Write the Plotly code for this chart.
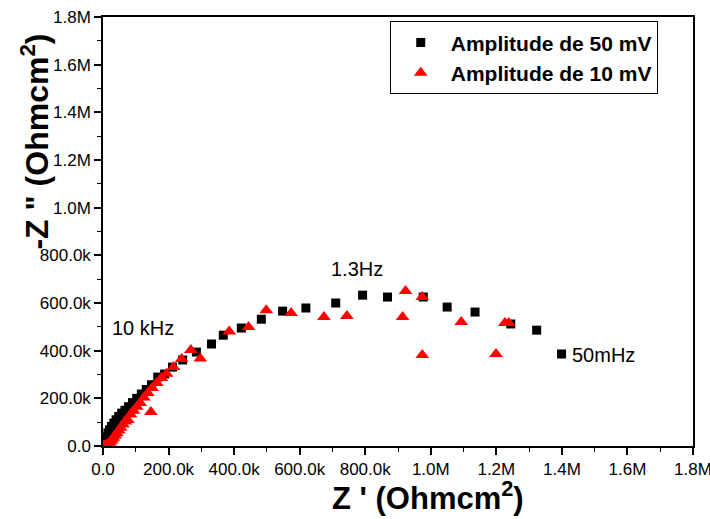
import plotly.graph_objects as go

# Amplitude 50 mV (black squares): Z' and -Z'' in k Ohm cm^2
x50 = [1, 3, 5, 8, 11, 15, 20, 26, 33, 40, 48, 57, 67, 78, 90, 103, 117, 132, 148, 167, 188,
       212, 243, 285, 331, 367, 422, 483, 548, 619, 710, 792, 868, 977, 1050, 1135, 1244, 1323, 1399]
y50 = [3, 10, 18, 28, 38, 55, 68, 82, 96, 110, 124, 138, 150, 165, 182, 200, 218, 237, 257, 289, 302,
       331, 361, 394, 428, 465, 495, 532, 566, 579, 600, 633, 625, 625, 583, 562, 512, 486, 386]

# Amplitude 10 mV (red triangles)
x10 = [1, 4, 8, 12, 16, 20, 24, 28, 32, 37, 42, 48, 54, 61, 68, 76, 84, 93, 103, 114, 125, 137,
       146, 150, 164, 178, 194, 215, 240, 268, 297, 385, 444, 498, 574, 674, 744, 914, 923, 974,
       974, 1093, 1199, 1226, 1238]
y10 = [1, 2, 3, 5, 9, 14, 20, 27, 35, 44, 54, 65, 77, 90, 103, 109, 132, 148, 165, 180, 203, 222,
       143, 243, 264, 285, 303, 331, 365, 403, 367, 480, 499, 570, 558, 541, 545, 541, 650, 625,
       382, 520, 386, 516, 516]

tick_vals = [0, 200, 400, 600, 800, 1000, 1200, 1400, 1600, 1800]
tick_text = ["0.0", "200.0k", "400.0k", "600.0k", "800.0k", "1.0M", "1.2M", "1.4M", "1.6M", "1.8M"]

FONT = "Liberation Sans, Arial"

fig = go.Figure()
fig.add_trace(go.Scatter(x=x50, y=y50, mode="markers", name="Amplitude de 50 mV",
                         marker=dict(symbol="square", size=9, color="black")))
fig.add_trace(go.Scatter(x=x10, y=y10, mode="markers", name="Amplitude de 10 mV",
                         marker=dict(symbol="triangle-up", size=12, color="#ff0000")))

axis_common = dict(range=[0, 1800], tickvals=tick_vals, ticktext=tick_text,
                   showgrid=False, zeroline=False, showline=True, linecolor="black",
                   linewidth=1.5, mirror=True, ticks="outside", ticklen=7, tickwidth=1.5,
                   tickcolor="black", ticklabeloverflow="allow", automargin=False,
                   minor=dict(ticks="outside", ticklen=4, dtick=100, tickcolor="black", tickwidth=1.2),
                   tickfont=dict(family=FONT, size=17, color="black"))

fig.update_xaxes(**axis_common)
fig.update_yaxes(**axis_common)

# axis titles
fig.add_annotation(xref="paper", yref="paper", x=0.55, y=-0.117,
                   xanchor="center", yanchor="middle",
                   text="<b>Z ' (Ohmcm<sup>2</sup>)</b>", showarrow=False,
                   font=dict(family=FONT, size=31, color="black"))
fig.add_annotation(xref="paper", yref="paper", x=-0.115, y=0.71, textangle=-90,
                   xanchor="center", yanchor="middle",
                   text="<b>-Z \" (Ohmcm<sup>2</sup>)</b>", showarrow=False,
                   font=dict(family=FONT, size=32, color="black"))

# frequency labels
fig.add_annotation(x=20, y=496, text="10 kHz", showarrow=False, xanchor="left",
                   font=dict(family=FONT, size=20, color="black"))
fig.add_annotation(x=774, y=742, text="1.3Hz", showarrow=False,
                   font=dict(family=FONT, size=20, color="black"))
fig.add_annotation(x=1424, y=382, text="50mHz", showarrow=False, xanchor="left",
                   font=dict(family=FONT, size=20, color="black"))

fig.update_layout(
    width=710, height=519,
    margin=dict(l=103, r=17, t=17, b=73, autoexpand=False),
    paper_bgcolor="white", plot_bgcolor="white",
    showlegend=True,
    legend=dict(x=0.486, y=0.99, xanchor="left", yanchor="top",
                bordercolor="black", borderwidth=1, bgcolor="white",
                font=dict(family=FONT, size=21, color="black", weight="bold"),
                itemwidth=50, tracegroupgap=0),
)

fig.write_html("out.html")
